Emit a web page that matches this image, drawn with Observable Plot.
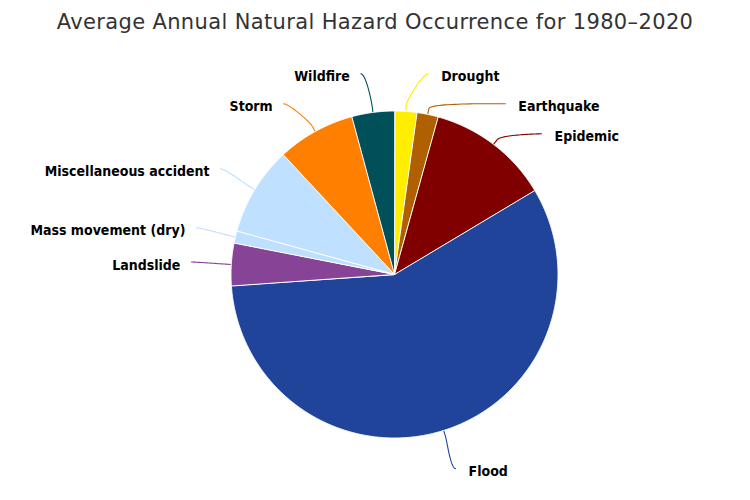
<!DOCTYPE html>
<html><head><meta charset="utf-8">
<script src="https://cdn.jsdelivr.net/npm/d3@7"></script>
<script src="https://cdn.jsdelivr.net/npm/@observablehq/plot@0.6"></script>
<style>
body{margin:0;background:#fff;}
#title{height:44px;line-height:45px;text-align:center;font-family:"DejaVu Sans",sans-serif;font-size:21px;letter-spacing:0.36px;color:#333;white-space:nowrap;}
</style></head><body>
<div id="title">Average Annual Natural Hazard Occurrence for 1980–2020</div>
<div id="chart"></div>
<script>
// Data (share of average annual occurrences, %)
const categories = ["Drought", "Earthquake", "Epidemic", "Flood", "Landslide", "Mass movement (dry)", "Miscellaneous accident", "Storm", "Wildfire"];
const shares = [2.2, 2.1, 12.1, 57.4, 4.2, 1.2, 8.8, 7.7, 4.2];
const colors = ["#ffee00", "#b06000", "#800000", "#21449b", "#874496", "#bfdfff", "#bfe0ff", "#ff8000", "#00505a"];

// Layout
const W = 750, H = 456;
const cx = 394, cy = 230, r = 163.5;
const labelR = 203.5 / r;
const topY = (cy - 29.3) / r;
const spacing = 30 / r;

const arcs = d3.pie().sort(null).value(d => d)(shares);

// slice polygons
const slicePts = [];
arcs.forEach((a, i) => {
  const c = categories[i];
  slicePts.push({x: 0, y: 0, c});
  const n = Math.max(2, Math.ceil((a.endAngle - a.startAngle) / 0.005));
  for (let k = 0; k <= n; k++) {
    const t = a.startAngle + (a.endAngle - a.startAngle) * k / n;
    slicePts.push({x: Math.sin(t), y: Math.cos(t), c});
  }
});

// labels
const labels = arcs.map((a, i) => {
  const mid = (a.startAngle + a.endAngle) / 2;
  return {c: categories[i], mid, side: mid < Math.PI ? 1 : -1, ideal: labelR * Math.cos(mid)};
});
for (const side of [1, -1]) {
  const group = labels.filter(d => d.side === side).sort((a, b) => b.ideal - a.ideal);
  let prev = Infinity;
  for (const d of group) {
    d.y = Math.min(d.ideal, topY, prev - spacing);
    prev = d.y;
    d.x = side * Math.sqrt(Math.max(labelR * labelR - d.y * d.y, 0));
  }
}
// connectors
const connPts = [];
labels.forEach(d => {
  const tx = Math.sin(d.mid), ty = Math.cos(d.mid);
  const k = 1 + 6 / r;
  const bx = tx * k, by = ty * k;
  const p0 = [d.x, d.y], p1 = [d.x - d.side * 5 / r, d.y], p2 = [2 * bx - tx, 2 * by - ty], p3 = [bx, by];
  for (let s = 0; s <= 30; s++) {
    const t = s / 30, u = 1 - t;
    connPts.push({
      c: d.c,
      x: u*u*u*p0[0] + 3*u*u*t*p1[0] + 3*u*t*t*p2[0] + t*t*t*p3[0],
      y: u*u*u*p0[1] + 3*u*u*t*p1[1] + 3*u*t*t*p2[1] + t*t*t*p3[1]
    });
  }
  connPts.push({c: d.c, x: tx, y: ty});
});

const labelFont = "DejaVu Sans Condensed, DejaVu Sans, sans-serif";
const chart = Plot.plot({
  width: W, height: H,
  margin: 0,
  style: {fontFamily: "DejaVu Sans, sans-serif", background: "#fff"},
  x: {domain: [-1, 1], range: [cx - r, cx + r], axis: null},
  y: {domain: [-1, 1], range: [cy + r, cy - r], axis: null},
  color: {type: "ordinal", domain: categories, range: colors},
  marks: [
    Plot.line(connPts, {x: "x", y: "y", z: "c", stroke: "c", strokeWidth: 1.1, curve: "linear"}),
    Plot.line(slicePts, {x: "x", y: "y", z: "c", fill: "c", stroke: "#fff", strokeWidth: 1, strokeLinejoin: "round", curve: "linear-closed"}),
    Plot.text(labels.filter(d => d.side > 0), {x: "x", y: "y", text: "c", textAnchor: "start", dx: 13, dy: 3, fontFamily: labelFont, fontSize: 14, fontWeight: "bold", fill: "#000"}),
    Plot.text(labels.filter(d => d.side < 0), {x: "x", y: "y", text: "c", textAnchor: "end", dx: -11, dy: 3, fontFamily: labelFont, fontSize: 14, fontWeight: "bold", fill: "#000"})
  ]
});
document.getElementById("chart").appendChild(chart);
</script>
</body></html>
